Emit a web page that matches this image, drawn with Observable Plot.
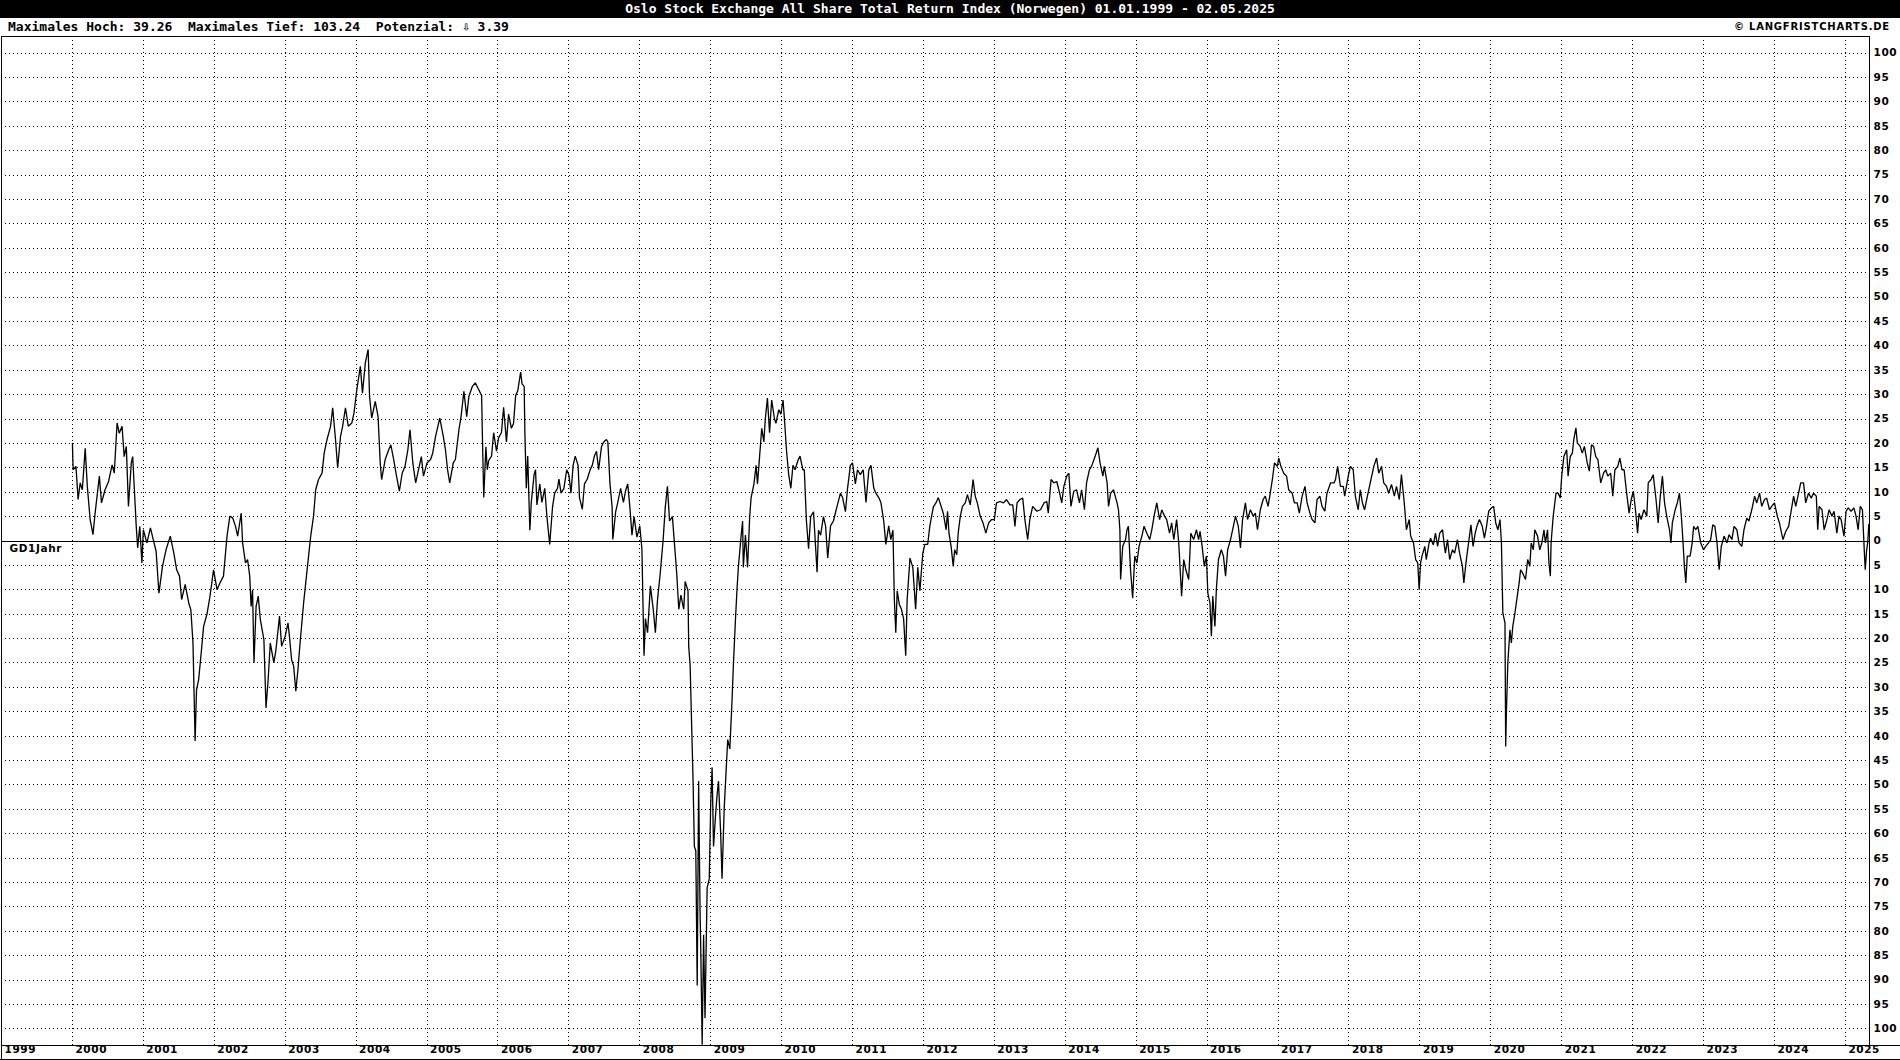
<!DOCTYPE html>
<html><head><meta charset="utf-8">
<script src="https://cdn.jsdelivr.net/npm/d3@7"></script>
<script src="https://cdn.jsdelivr.net/npm/@observablehq/plot@0.6"></script>
<style>
html,body{margin:0;padding:0;background:#fff;}
#wrap{width:1900px;height:1060px;position:relative;overflow:hidden;background:#fff;}
#title{height:18px;background:#000;color:#fff;font:bold 13px "DejaVu Sans Mono",monospace;text-align:center;line-height:18px;white-space:pre;}
#sub{height:17px;position:relative;font:bold 13px "DejaVu Sans Mono",monospace;line-height:18px;white-space:pre;color:#000;}
#sub .l{position:absolute;left:8px;top:0;}
#sub .r{position:absolute;right:10px;top:0;font:bold 10px "DejaVu Sans",sans-serif;letter-spacing:0.8px;line-height:18px;}
#chart{position:relative;height:1025px;}
#chart svg text{letter-spacing:0.6px;}
.ov{position:absolute;pointer-events:none;background:#000;}
</style></head><body>
<div id="wrap">
<div id="title"></div>
<div id="sub"><span class="l"></span><span class="r"></span></div>
<div id="chart"></div>
</div>
<script>
const titleText = "Oslo Stock Exchange All Share Total Return Index (Norwegen) 01.01.1999 - 02.05.2025";
const subtitleText = "Maximales Hoch: 39.26  Maximales Tief: 103.24  Potenzial: \u21E9 3.39";
const copyrightText = "\u00A9 LANGFRISTCHARTS.DE";
const refLabel = "GD1Jahr";

const xLabels = [1999,2000,2001,2002,2003,2004,2005,2006,2007,2008,2009,2010,2011,2012,2013,2014,2015,2016,2017,2018,2019,2020,2021,2022,2023,2024,2025];
const xGrid = [2000,2001,2002,2003,2004,2005,2006,2007,2008,2009,2010,2011,2012,2013,2014,2015,2016,2017,2018,2019,2020,2021,2022,2023,2024,2025];
const yLabels = [100,95,90,85,80,75,70,65,60,55,50,45,40,35,30,25,20,15,10,5,0,-5,-10,-15,-20,-25,-30,-35,-40,-45,-50,-55,-60,-65,-70,-75,-80,-85,-90,-95,-100];

// deviation from 1-year moving average, % (year, value)
const seg2000 = [[2000.00,20],[2000.01,14.6],[2000.05,15.3],[2000.08,8.5],[2000.11,11.9],[2000.14,10.5],[2000.18,19],[2000.21,11.2],[2000.25,4.4],[2000.29,1.3],[2000.32,5.7],[2000.38,13.3],[2000.41,7.8],[2000.46,10.5],[2000.51,12.2],[2000.56,15.6],[2000.59,13.9],[2000.63,24.2],[2000.66,22.1],[2000.70,23.5],[2000.73,17.3],[2000.76,19.4],[2000.79,7.1],[2000.83,16],[2000.85,17.3],[2000.90,3],[2000.92,-1.4],[2000.95,3],[2000.98,-4.5],[2001.00,2.3],[2001.05,-0.4],[2001.10,2.7],[2001.14,0.3],[2001.18,-2.1],[2001.22,-10.7],[2001.27,-5.2],[2001.32,-1.8],[2001.38,1],[2001.43,-2.5],[2001.47,-5.9],[2001.51,-7.2],[2001.54,-12],[2001.59,-8.9],[2001.64,-12.7],[2001.67,-14.1],[2001.70,-20.9],[2001.73,-41],[2001.75,-30.5],[2001.78,-28.4],[2001.82,-22.3],[2001.85,-17.5],[2001.90,-14.8],[2001.94,-11.3],[2001.99,-5.9],[2002.04,-10],[2002.08,-8.6],[2002.13,-7.2],[2002.18,1],[2002.22,5.1],[2002.26,4.7],[2002.30,3],[2002.33,1],[2002.38,5.7],[2002.40,-0.4],[2002.44,-4.5],[2002.47,-3.8],[2002.50,-7.2],[2002.52,-13.4],[2002.54,-10],[2002.56,-25],[2002.59,-13.4],[2002.62,-11.3],[2002.65,-16.1],[2002.70,-20.2],[2002.73,-34.2],[2002.76,-28.4],[2002.79,-20.9],[2002.84,-25],[2002.87,-22.3],[2002.92,-15.4],[2002.95,-21.6],[2003.00,-19.5],[2003.04,-16.8],[2003.06,-19.5],[2003.09,-24.3],[2003.12,-25.7],[2003.15,-30.8],[2003.18,-26.4],[2003.21,-20.9],[2003.26,-12.7],[2003.30,-7.2],[2003.33,-3.1],[2003.36,1],[2003.40,5.1],[2003.43,10.5],[2003.47,12.6],[2003.52,13.9],[2003.55,18],[2003.59,20.8],[2003.64,23.5],[2003.67,27.3],[2003.71,20.8],[2003.74,15],[2003.78,21.4],[2003.81,23.5],[2003.85,27.3],[2003.89,23.5],[2003.94,24.2],[2003.97,26.2],[2004.01,31],[2004.06,35.8],[2004.09,30.3],[2004.13,36.5],[2004.17,39.26],[2004.19,29.6],[2004.22,25.2],[2004.27,28.6],[2004.31,25.5],[2004.34,16],[2004.36,12.6],[2004.41,16.7],[2004.46,18.7],[2004.49,19.7],[2004.53,16.7],[2004.57,13.3],[2004.61,10.2],[2004.65,13.9],[2004.69,15.3],[2004.73,18.7],[2004.76,22.8],[2004.80,16],[2004.84,11.9],[2004.88,14.6],[2004.92,17.3],[2004.95,13.3],[2005.00,16],[2005.05,16.7],[2005.08,18],[2005.12,21.4],[2005.18,25.2],[2005.23,21.4],[2005.26,18.7],[2005.29,14.6],[2005.32,11.9],[2005.37,16],[2005.40,16.7],[2005.45,22.8],[2005.48,25.5],[2005.52,30.7],[2005.56,25.5],[2005.59,29.6],[2005.64,31.7],[2005.68,32.4],[2005.73,31]];

const seg2006 = [[2005.77,29.8],[2005.78,22.2],[2005.80,8.9],[2005.83,19.3],[2005.85,14.6],[2005.87,16.5],[2005.91,17.4],[2005.94,22.2],[2005.98,18.4],[2006.01,21.2],[2006.05,22.2],[2006.08,27.4],[2006.12,20.3],[2006.15,26],[2006.19,23.1],[2006.22,24.1],[2006.25,29.8],[2006.28,30.8],[2006.32,34.6],[2006.34,32.2],[2006.37,31.7],[2006.38,22.2],[2006.40,10.8],[2006.42,17.4],[2006.45,2.2],[2006.47,7.9],[2006.51,13.6],[2006.53,14.6],[2006.55,7.4],[2006.59,11.7],[2006.62,7.9],[2006.66,10.8],[2006.69,5.1],[2006.73,-0.7],[2006.77,7],[2006.80,9.8],[2006.84,10.8],[2006.86,12.7],[2006.89,9.8],[2006.93,10.8],[2006.97,14.6],[2007.00,13.6],[2007.03,9.8],[2007.06,15.5],[2007.09,17.4],[2007.13,15.5],[2007.15,8.9],[2007.19,6.5],[2007.22,11.7],[2007.26,12.7],[2007.30,14.6],[2007.33,15.5],[2007.36,17.4],[2007.39,18.4],[2007.42,14.6],[2007.46,19.3],[2007.49,20.3],[2007.53,20.8],[2007.55,20.3],[2007.58,11.7],[2007.61,7],[2007.62,0.3],[2007.66,6],[2007.69,7.9],[2007.73,10.8],[2007.77,7.9],[2007.80,10.3],[2007.83,11.7],[2007.86,7],[2007.89,1.2],[2007.92,5],[2007.96,0.8],[2008.00,3.1],[2008.03,-1.6],[2008.06,-23.5],[2008.08,-15.9],[2008.11,-18.8],[2008.15,-9.2],[2008.19,-14],[2008.22,-18.8],[2008.25,-12.1],[2008.29,-6.4],[2008.33,0.3],[2008.36,7],[2008.39,11.2],[2008.42,4.1],[2008.46,5],[2008.49,-0.7],[2008.52,-6.4],[2008.55,-14],[2008.58,-11.1],[2008.62,-14],[2008.64,-8.3],[2008.68,-10.2],[2008.69,-21.6],[2008.71,-25.4],[2008.73,-36.9],[2008.75,-48.3],[2008.77,-62.6],[2008.79,-63.5],[2008.81,-91.1],[2008.83,-49.2],[2008.85,-75.9],[2008.86,-83.5],[2008.88,-103.24],[2008.90,-80.7],[2008.92,-97.8],[2008.95,-71.1],[2008.98,-69.2],[2009.00,-54],[2009.02,-46.4],[2009.04,-62.6],[2009.07,-55.9],[2009.09,-52.1],[2009.11,-49.2],[2009.14,-59.7],[2009.16,-69.2],[2009.19,-55],[2009.22,-46.4],[2009.24,-40.7],[2009.27,-42.6],[2009.30,-33],[2009.32,-25.4],[2009.35,-15.9],[2009.37,-10.2],[2009.39,-5.4],[2009.43,1.2],[2009.45,4.1],[2009.46,-5.4],[2009.49,1.2],[2009.52,-5.4],[2009.55,5],[2009.57,8.9],[2009.61,11.7],[2009.64,15.5],[2009.66,11.7],[2009.69,17.4],[2009.72,23.1],[2009.75,20.3],[2009.77,25],[2009.80,29.3],[2009.83,22.2],[2009.86,28.9],[2009.90,25],[2009.92,24.1],[2009.96,26.9],[2009.99,26],[2010.02,28.9],[2010.04,25],[2010.07,18.4],[2010.10,13.6],[2010.13,10.8],[2010.16,15.5],[2010.19,14.6],[2010.23,16.5],[2010.26,17.4],[2010.30,14.6],[2010.32,14.6],[2010.35,4.1],[2010.38,-1.6],[2010.41,5],[2010.45,6],[2010.50,-6.4],[2010.52,2.2],[2010.55,1.2],[2010.59,5],[2010.62,3.1],[2010.65,-3.5],[2010.69,3.1],[2010.73,4.1],[2010.78,7],[2010.83,9.8],[2010.86,8.9],[2010.90,6],[2010.93,10.8],[2010.97,15.5],[2011.00,16],[2011.04,11.7],[2011.07,14.6],[2011.11,13.6],[2011.15,14.6],[2011.19,7.9],[2011.23,14.6],[2011.26,15.5],[2011.30,10.8],[2011.33,9.8],[2011.37,8.9],[2011.40,7.9],[2011.44,4.1],[2011.47,-0.7],[2011.51,3.1],[2011.54,0.3],[2011.57,2.2],[2011.59,-12.1],[2011.61,-18.8],[2011.63,-10.2],[2011.66,-13],[2011.69,-14],[2011.72,-15.9],[2011.75,-23.5],[2011.77,-12.1],[2011.81,-3.5],[2011.85,-5.4],[2011.89,-14],[2011.92,-5.4],[2011.95,-10.2],[2011.99,-2.6],[2012.02,-0.7],[2012.06,-0.7],[2012.09,3.1],[2012.14,7],[2012.18,7.9],[2012.21,8.9]];

const seg2012 = [[2012.28,5.7],[2012.32,2.3],[2012.34,6.1],[2012.36,1.6],[2012.39,-1.1],[2012.42,-5.2],[2012.44,-1.8],[2012.47,-2.8],[2012.49,1.6],[2012.52,5.1],[2012.55,7.1],[2012.59,7.8],[2012.62,9.5],[2012.66,7.4],[2012.70,12.6],[2012.73,9.2],[2012.76,7.8],[2012.80,5.1],[2012.84,3.7],[2012.88,1.6],[2012.92,3.7],[2012.96,4.4],[2013.00,4.4],[2013.03,7.8],[2013.08,8.1],[2013.13,7.8],[2013.17,8.5],[2013.22,7.4],[2013.26,7.4],[2013.29,3],[2013.32,7.8],[2013.36,8.5],[2013.40,8.8],[2013.43,4.4],[2013.47,0.3],[2013.50,4.4],[2013.54,7.1],[2013.60,6.1],[2013.65,6.4],[2013.70,7.8],[2013.74,8.1],[2013.76,5.7],[2013.80,12.6],[2013.84,11.9],[2013.88,12.2],[2013.92,9.8],[2013.95,7.8],[2013.98,11.2],[2014.02,13.3],[2014.05,13.9],[2014.08,7.1],[2014.12,10.2],[2014.16,10.5],[2014.20,7.8],[2014.23,10.5],[2014.27,6.4],[2014.30,11.9],[2014.34,14.6],[2014.37,15.3],[2014.42,17.3],[2014.46,19.1],[2014.49,16],[2014.53,13.3],[2014.55,15.3],[2014.59,11.9],[2014.61,7.1],[2014.64,9.8],[2014.68,10.5],[2014.73,7.8],[2014.75,6.4],[2014.77,2.3],[2014.78,-7.9],[2014.81,-1.1],[2014.85,0.3],[2014.87,2.3],[2014.89,3],[2014.92,-5.9],[2014.95,-11.7],[2014.98,-3.1],[2015.01,-4.5],[2015.04,-1.1],[2015.08,1],[2015.11,3],[2015.15,1.6],[2015.19,0.3],[2015.22,2.3],[2015.26,5.7],[2015.29,7.8],[2015.33,4.4],[2015.36,6.4],[2015.40,5.1],[2015.43,4.4],[2015.47,1.6],[2015.50,3.7],[2015.53,0.3],[2015.57,4.4],[2015.60,-0.4],[2015.64,-11.3],[2015.67,-3.8],[2015.70,-5.9],[2015.74,-7.9],[2015.77,1.6],[2015.81,0.3],[2015.85,2.3],[2015.88,0.3],[2015.90,2],[2015.93,-1.1],[2015.96,-5.2],[2015.99,-3.1],[2016.01,-10.7],[2016.04,-12.7],[2016.06,-19.5],[2016.08,-11.3],[2016.11,-17.5],[2016.13,-10],[2016.16,-3.8],[2016.20,-1.8],[2016.23,-3.1],[2016.26,-7.2],[2016.29,-1.8],[2016.33,0.3],[2016.37,3],[2016.40,5.1],[2016.44,3],[2016.47,-1.4],[2016.50,4.4],[2016.54,7.8],[2016.57,4.4],[2016.61,6.4],[2016.65,5.1],[2016.68,5.7],[2016.71,2.3],[2016.75,6.4],[2016.79,8.5],[2016.82,9.2],[2016.86,7.1],[2016.89,9.8],[2016.92,12.6],[2016.95,16],[2016.99,15.3],[2017.01,17],[2017.04,15.3],[2017.08,13.9],[2017.12,13.3],[2017.15,10.5],[2017.20,9.8],[2017.23,7.8],[2017.27,7.8],[2017.30,5.7],[2017.34,9.2],[2017.38,11.2],[2017.41,7.8],[2017.45,5.7],[2017.48,4.4],[2017.52,3.7],[2017.55,8.5],[2017.59,9.2],[2017.62,7.1],[2017.66,6.1],[2017.69,9.8],[2017.74,11.9],[2017.79,11.9],[2017.81,12.6],[2017.84,15.3],[2017.88,11.2],[2017.92,11.2],[2017.94,9.2],[2017.99,13.3],[2018.02,15.3],[2018.06,14.6],[2018.09,9.2],[2018.13,6.4],[2018.16,10.5],[2018.19,7.8],[2018.22,6.4],[2018.26,9.2],[2018.30,11.9],[2018.33,13.9],[2018.35,15.3],[2018.39,17],[2018.42,13.9],[2018.46,15.3],[2018.49,11.9],[2018.53,11.2],[2018.56,9.8],[2018.60,11.6],[2018.64,9.2],[2018.67,11.2],[2018.71,8.5],[2018.74,13.6],[2018.78,7.8],[2018.81,2.3],[2018.85,4.4],[2018.87,1],[2018.91,-0.4],[2018.94,-3.8],[2018.97,-4.5],[2018.99,-10]];

const seg2019 = [[2019.01,-4.5],[2019.03,-3.1],[2019.07,-1.1],[2019.09,-3.8],[2019.13,-0.4],[2019.15,0.6],[2019.19,-0.8],[2019.22,1.6],[2019.25,-1.1],[2019.28,1.6],[2019.32,2.3],[2019.34,-0.4],[2019.36,-2.5],[2019.39,0.3],[2019.42,-3.8],[2019.46,-1.8],[2019.49,-2.5],[2019.53,0.3],[2019.56,-2.5],[2019.60,-5.2],[2019.62,-8.6],[2019.65,-4.5],[2019.68,-1.1],[2019.72,3.3],[2019.75,-1.1],[2019.78,1.6],[2019.81,3.3],[2019.84,4.4],[2019.88,3],[2019.91,0.6],[2019.94,3],[2019.97,6.1],[2020.01,6.8],[2020.04,7.1],[2020.07,3.7],[2020.10,2.3],[2020.13,4.4],[2020.15,-0.4],[2020.17,-14.8],[2020.20,-16.8],[2020.21,-42.1],[2020.22,-35.2],[2020.24,-25],[2020.27,-18.2],[2020.29,-20.9],[2020.31,-17.5],[2020.34,-14.8],[2020.36,-12.7],[2020.40,-8.6],[2020.42,-5.9],[2020.45,-6.6],[2020.49,-7.9],[2020.52,-3.8],[2020.55,-5.2],[2020.57,-0.4],[2020.60,-1.8],[2020.62,2.3],[2020.66,1],[2020.69,-1.8],[2020.72,-0.4],[2020.75,2.3],[2020.77,-0.4],[2020.80,2.3],[2020.82,-4.5],[2020.84,-7.2],[2020.85,-0.4],[2020.88,5.1],[2020.92,9.8],[2020.95,9.8],[2020.98,8.8],[2021.00,13.3],[2021.03,17.3],[2021.07,18.7],[2021.09,13.3],[2021.12,17.3],[2021.15,18],[2021.17,20.8],[2021.20,23.2],[2021.22,20.1],[2021.26,19.4],[2021.29,18],[2021.32,19.4],[2021.36,16],[2021.39,14.3],[2021.42,19.7],[2021.45,19.4],[2021.48,17.3],[2021.51,16.7],[2021.55,11.9],[2021.59,13.9],[2021.62,14.6],[2021.65,13.3],[2021.69,13.9],[2021.72,9.2],[2021.75,14.6],[2021.79,15.3],[2021.82,17],[2021.85,14.6],[2021.88,14.6],[2021.91,10.5],[2021.95,5.7],[2021.98,8.5],[2022.01,10.2],[2022.04,6.4],[2022.07,1.6],[2022.09,5.7],[2022.12,4.4],[2022.16,6.4],[2022.20,5.1],[2022.22,11.9],[2022.26,12.6],[2022.29,13.6],[2022.33,8.5],[2022.36,3.7],[2022.39,9.2],[2022.42,13.3],[2022.45,7.8],[2022.48,5.1],[2022.52,2.3],[2022.54,-0.4],[2022.56,3.7],[2022.60,6.4],[2022.63,7.8],[2022.66,9.8],[2022.68,6.4],[2022.70,2.3],[2022.73,-5.2],[2022.75,-8.6],[2022.77,-3.1],[2022.81,-3.1],[2022.84,-0.4],[2022.86,3],[2022.89,2.3],[2022.92,3],[2022.96,-0.4],[2023.00,-1.8],[2023.03,-1.1],[2023.07,-0.4],[2023.10,0.3],[2023.13,3.3],[2023.16,3],[2023.19,-0.4],[2023.22,-5.9],[2023.25,-1.1],[2023.29,1],[2023.33,-0.4],[2023.36,1.3],[2023.40,0.3],[2023.43,3],[2023.47,2.3],[2023.50,-0.4],[2023.54,-1.1],[2023.57,2.3],[2023.61,4.7],[2023.64,4.1],[2023.68,6.4],[2023.72,9.2],[2023.75,7.8],[2023.79,9.8],[2023.82,7.1],[2023.86,8.5],[2023.89,8.8],[2023.93,6.4],[2023.96,7.1],[2024.00,7.8],[2024.04,5.1],[2024.07,3.7],[2024.10,1.6],[2024.12,0.3],[2024.16,2],[2024.20,3],[2024.23,5.7],[2024.27,9.2],[2024.30,7.1],[2024.34,9.8],[2024.37,11.9],[2024.41,11.9],[2024.44,7.8],[2024.48,9.8],[2024.52,8.8],[2024.55,9.8],[2024.59,9.2],[2024.61,2.3],[2024.63,7.1],[2024.67,6.4],[2024.70,2.3],[2024.74,4.4],[2024.77,6.4],[2024.81,5.1],[2024.84,6.1],[2024.88,1.6],[2024.91,5.1],[2024.94,4.4],[2024.98,1],[2025.01,6.1],[2025.04,6.8],[2025.08,6.1],[2025.12,6.8],[2025.15,5.1],[2025.18,2.3],[2025.21,7.1],[2025.24,6.4],[2025.27,-3.1],[2025.28,-5.9],[2025.30,-1.8],[2025.315,-0.4],[2025.33,3.39]];

const series = [...seg2000, ...seg2006, ...seg2012, ...seg2019].map(([year, value]) => ({year, value}));

document.getElementById("title").textContent = titleText;
document.querySelector("#sub .l").textContent = subtitleText;
document.querySelector("#sub .r").textContent = copyrightText;

const W = 1900, H = 1025, mT = 1, mB = 15, mL = 1, mR = 31;
const chart = Plot.plot({
  width: W, height: H,
  marginTop: mT, marginBottom: mB, marginLeft: mL, marginRight: mR,
  x: {domain: [1999, 2025.34], axis: null},
  y: {domain: [-103.4, 103.4], axis: null},
  style: {background: "white", color: "black", fontFamily: "'DejaVu Sans', sans-serif", fontSize: "10.5px", fontWeight: "bold", overflow: "visible"},
  marks: [
    Plot.ruleY(yLabels.filter(d => d !== 0), {stroke: "black", strokeWidth: 1, strokeDasharray: "1,3", shapeRendering: "crispEdges"}),
    Plot.ruleX(xGrid, {stroke: "black", strokeWidth: 1, strokeDasharray: "1,3", shapeRendering: "crispEdges"}),
    Plot.ruleY([0], {stroke: "black", strokeWidth: 1, shapeRendering: "crispEdges"}),
    Plot.line(series, {x: "year", y: "value", stroke: "black", strokeWidth: 1.3, strokeLinejoin: "miter", clip: true}),
    Plot.frame({stroke: "black", strokeWidth: 1, shapeRendering: "crispEdges"}),
    Plot.text(yLabels, {y: d => d, text: d => String(Math.abs(d)), frameAnchor: "right", dx: 4, textAnchor: "start", fill: "black"}),
    Plot.text(xLabels, {x: d => d, text: d => String(d), frameAnchor: "bottom", dy: 7.5, dx: 3, textAnchor: "start", fill: "black"}),
    Plot.text([refLabel], {y: () => 0, text: d => d, frameAnchor: "left", dx: 8, dy: 8, textAnchor: "start", fill: "black"})
  ]
});
const host = document.getElementById("chart");
host.appendChild(chart);
function ov(l, t, w, h) { const d = document.createElement("div"); d.className = "ov"; Object.assign(d.style, {left: l + "px", top: t + "px", width: w + "px", height: h + "px"}); host.appendChild(d); }
ov(W - mR, H - mB, mR, 1);      // axis line continues under the label column
ov(0, H - 1, W, 1);             // outer bottom border
ov(1, H - mB, 1, mB);           // outer left border in the label row
</script>
</body></html>
